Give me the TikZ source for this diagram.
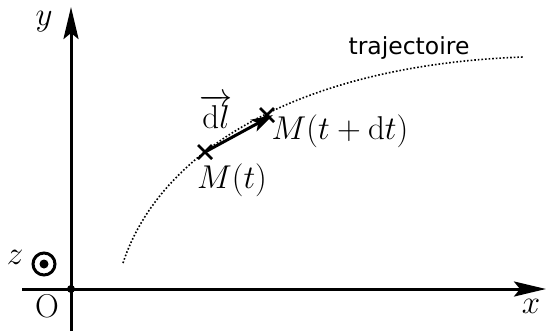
\RequirePackage{fix-cm}
\documentclass[tikz,border=0pt]{standalone}
\usepackage{fontspec}
\newfontfamily\trajfont{DejaVu Sans}
\usetikzlibrary{arrows.meta,calc}
\begin{document}
\begin{tikzpicture}[x=1pt,y=-1pt,
  axis/.style={line width=3pt,-{Stealth[length=32pt,width=15pt,inset=6pt]}},
  lbl/.style={font=\fontsize{33}{38}\selectfont,inner sep=0pt},
  cross/.style={line width=2.6pt}]
\useasboundingbox (0,0) rectangle (557,333);
\coordinate (O) at (71,289);
\coordinate (ybot) at (71,331);
\coordinate (ytop) at (71,7);
\coordinate (xleft) at (22,289);
\coordinate (xright) at (546,289);
\draw[axis] (ybot) -- (ytop);
\draw[axis] (xleft) -- (xright);
\fill (O) circle (4);
\node[lbl] (ylab) at (44,22) {$y$};
\node[lbl] (xlab) at (531,306) {$x$};
\node[lbl] (olab) at (47,306) {$\mathrm{O}$};
\node[lbl] (zlab) at (15,257) {$z$};
\node[circle,draw,line width=3pt,minimum size=22pt,inner sep=0pt] (zc) at (44,264) {};
\fill (zc.center) circle (4.5);
% trajectory
\coordinate (A) at (123,263);
\coordinate (B) at (523,57);
\draw[dotted,line width=1.6pt] (A) .. controls (160,150) and (300,65) .. (B);
\node[font=\trajfont\fontsize{23.5}{28}\selectfont,inner sep=0pt] (traj) at (409,48) {trajectoire};
% points
\coordinate (M1) at (205,152);
\coordinate (M2) at (267,115);
\draw[cross] ($(M1)+(-7,-7)$) -- ($(M1)+(7,7)$) ($(M1)+(-7,7)$) -- ($(M1)+(7,-7)$);
\draw[cross] ($(M2)+(-7,-7)$) -- ($(M2)+(7,7)$) ($(M2)+(-7,7)$) -- ($(M2)+(7,-7)$);
\draw[line width=3pt,-{Stealth[length=22pt,width=13pt,inset=5pt]}] (M1) -- ($(M2)+(6,0)$);
\node[lbl] (dl) at (216,112) {$\overrightarrow{\mathrm{d}l}$};
\node[lbl] (m1lab) at (232,180) {$M(t)$};
\node[lbl] (m2lab) at (340,131) {$M(t+\mathrm{d}t)$};
\end{tikzpicture}
\end{document}
